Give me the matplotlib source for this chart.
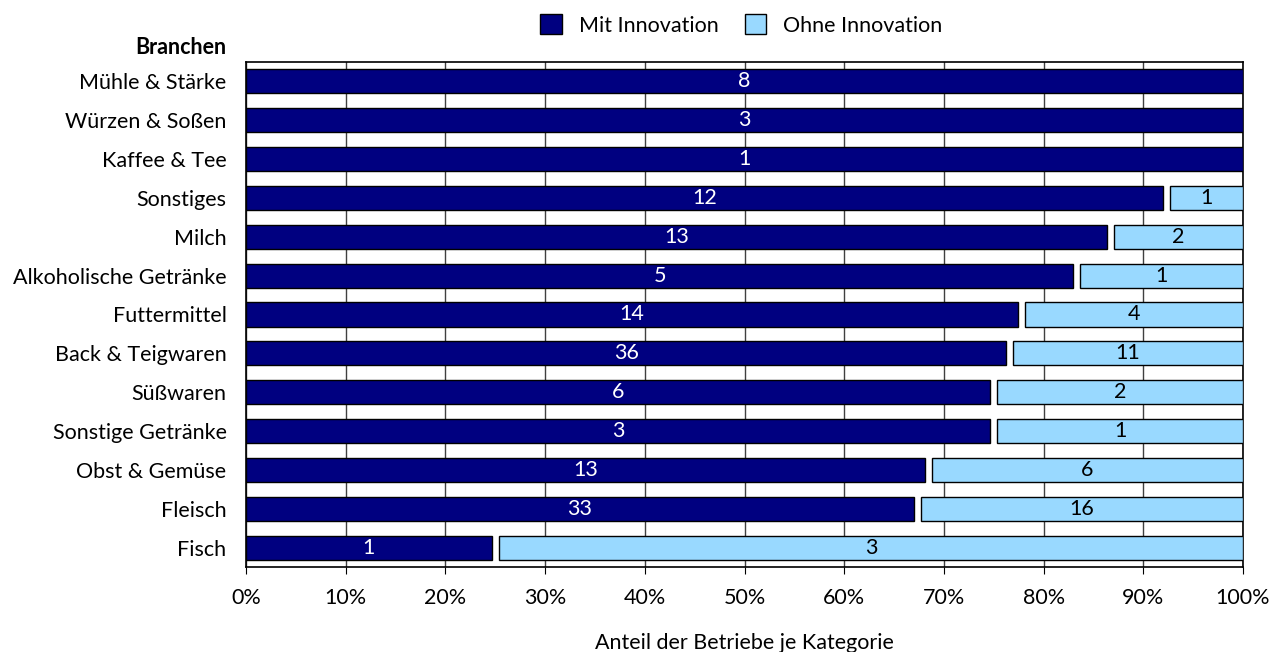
import matplotlib
matplotlib.use("Agg")
import matplotlib.pyplot as plt
import numpy as np
from matplotlib.patches import Patch

plt.rcParams['font.family'] = ['Lato', 'DejaVu Sans']

categories = ["Mühle & Stärke", "Würzen & Soßen", "Kaffee & Tee", "Sonstiges", "Milch",
              "Alkoholische Getränke", "Futtermittel", "Back & Teigwaren", "Süßwaren",
              "Sonstige Getränke", "Obst & Gemüse", "Fleisch", "Fisch"]
mit = [8, 3, 1, 12, 13, 5, 14, 36, 6, 3, 13, 33, 1]
ohne = [0, 0, 0, 1, 2, 1, 4, 11, 2, 1, 6, 16, 3]
xticklabels = ["0%", "10%", "20%", "30%", "40%", "50%", "60%", "70%", "80%", "90%", "100%"]

dark = "#000080"
light = "#99D9FF"
FS = 15.5

fig = plt.figure(figsize=(12.83, 6.52), dpi=100)
ax = fig.add_axes([246/1283, 1-567/652, (1243-246)/1283, (567-62)/652])

mit_a = np.array(mit, float)
ohne_a = np.array(ohne, float)
tot = mit_a + ohne_a
share = mit_a / tot
n = len(categories)
y = np.arange(n)[::-1]
h = 0.62
gap = 0.0035

for i in range(n):
    has_ohne = ohne_a[i] > 0
    w1 = share[i] - (gap if has_ohne else 0)
    ax.barh(y[i], w1, left=0, height=h, color=dark, edgecolor='black', linewidth=1, zorder=3)
    ax.text(w1/2, y[i], str(mit[i]), ha='center', va='center', color='white', fontsize=FS, zorder=4)
    if has_ohne:
        l2 = share[i] + gap
        ax.barh(y[i], 1 - l2, left=l2, height=h, color=light, edgecolor='black', linewidth=1, zorder=3)
        ax.text((l2 + 1)/2, y[i], str(ohne[i]), ha='center', va='center', color='black', fontsize=FS, zorder=4)

ax.set_xlim(0, 1)
ax.set_ylim(-0.5, n - 0.5)
ax.set_xticks(np.linspace(0, 1, 11))
ax.set_xticklabels(xticklabels, fontsize=FS)
ax.set_yticks(y)
ax.set_yticklabels(categories, fontsize=FS)
ax.tick_params(axis='y', length=0, pad=14)
ax.tick_params(axis='x', direction='out', length=5, pad=10, color='black')
ax.grid(axis='x', color='#404040', linewidth=1, zorder=0)
for s in ax.spines.values():
    s.set_color('black')
    s.set_linewidth(1.2)

ax.set_xlabel("Anteil der Betriebe je Kategorie", fontsize=FS, labelpad=18)
fig.text(226/1283, 1-48/652, "Branchen", ha='right', va='center', fontsize=FS, fontweight='bold')

handles = [Patch(facecolor=dark, edgecolor='black', label='Mit Innovation'),
           Patch(facecolor=light, edgecolor='black', label='Ohne Innovation')]
fig.legend(handles=handles, loc='center', bbox_to_anchor=(0.578, 1-25/652), ncol=2, frameon=False,
           fontsize=FS, handlelength=1.0, handleheight=1.0, columnspacing=1.2, handletextpad=0.8)

fig.savefig("out.png", dpi=100)
